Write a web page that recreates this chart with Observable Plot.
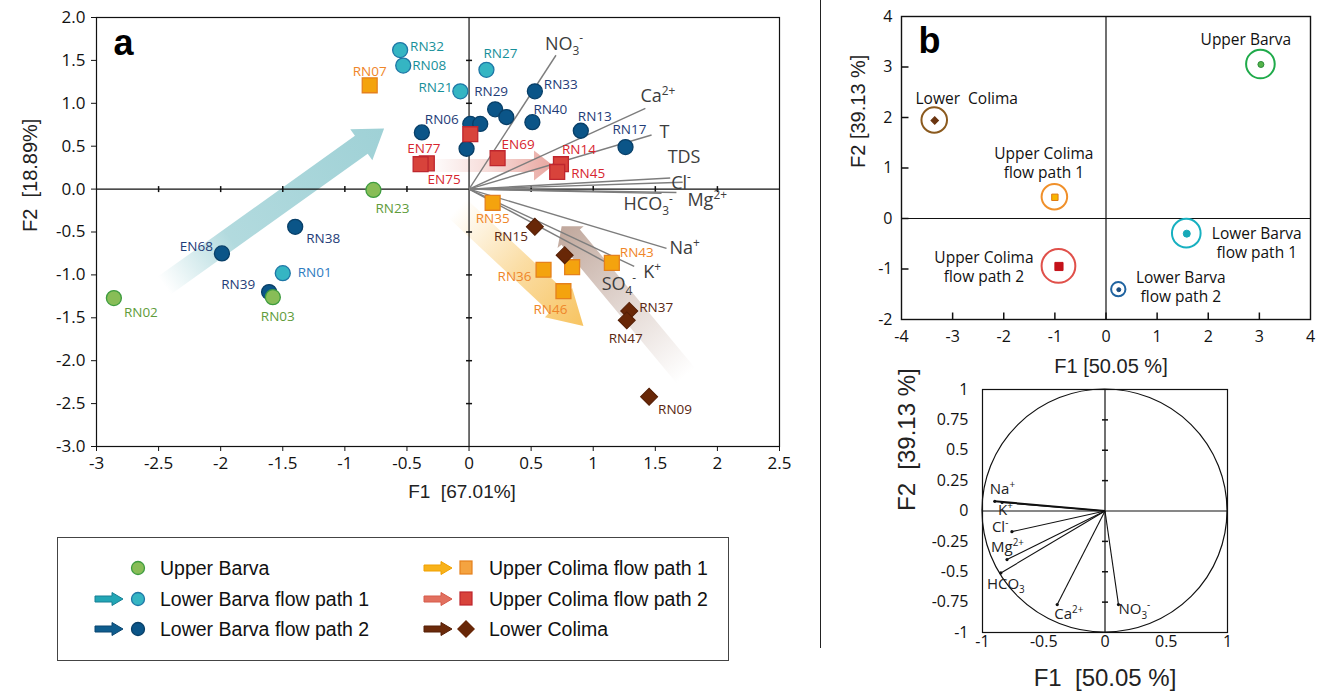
<!DOCTYPE html>
<html>
<head>
<meta charset="utf-8">
<script src="https://cdn.jsdelivr.net/npm/d3@7"></script>
<script src="https://cdn.jsdelivr.net/npm/@observablehq/plot@0.6"></script>
<style>
html, body { margin: 0; padding: 0; background: #fff; }
#root { position: relative; width: 1322px; height: 691px; overflow: hidden; font-family: "Open Sans", sans-serif; }
.panel { position: absolute; }
</style>
</head>
<body>
<div id="root"></div>
<script>
// ================= DATA =================
// ---- Panel a: sample scores (F1, F2) ----
const sampleIds = [
  "EN68","RN38","RN39","RN06","","","","RN29","","RN33","RN40","RN13","RN17",
  "RN01","RN32","RN08","RN21","RN27",
  "RN02","RN03","RN23",
  "RN07","RN35","RN36","","RN46","RN43",
  "","EN69","EN77","EN75","RN14","RN45",
  "RN15","","RN37","RN47","RN09"
];
const sampleGroup = [
  "LB2","LB2","LB2","LB2","LB2","LB2","LB2","LB2","LB2","LB2","LB2","LB2","LB2",
  "LB1","LB1","LB1","LB1","LB1",
  "UB","UB","UB",
  "UC1","UC1","UC1","UC1","UC1","UC1",
  "UC2","UC2","UC2","UC2","UC2","UC2",
  "LC","LC","LC","LC","LC"
];
const sampleF1 = [
  -1.99,-1.40,-1.61,-0.38,0.01,0.09,-0.02,0.21,0.30,0.53,0.51,0.90,1.26,
  -1.50,-0.555,-0.53,-0.07,0.14,
  -2.86,-1.58,-0.77,
  -0.80,0.19,0.60,0.83,0.76,1.15,
  0.01,0.23,-0.34,-0.39,0.74,0.71,
  0.53,0.77,1.29,1.27,1.45
];
const sampleF2 = [
  -0.75,-0.44,-1.20,0.66,0.76,0.76,0.47,0.93,0.84,1.14,0.78,0.68,0.49,
  -0.98,1.62,1.44,1.14,1.39,
  -1.27,-1.26,-0.01,
  1.21,-0.16,-0.94,-0.91,-1.19,-0.86,
  0.64,0.36,0.30,0.29,0.29,0.20,
  -0.44,-0.77,-1.42,-1.53,-2.42
];
// ---- Panel a: variable loadings ----
const varLabelsA = ["NO_{3}^{-}","Ca^{2+}","T","TDS","Cl^{-}","HCO_{3}^{-}","Mg^{2+}","Na^{+}","K^{+}","SO_{4}^{-}"];
const varF1A = [0.70,1.42,1.47,1.72,1.62,1.55,1.67,1.59,1.33,1.10];
const varF2A = [1.56,0.94,0.63,0.08,0.13,-0.05,-0.04,-0.69,-0.90,-0.85];
// ---- Panel a: flow-path arrows (tail -> head, in F1/F2 units) ----
const flowGroup  = ["LB1","UC2","UC1","LC"];
const flowTailF1 = [-2.45,-0.33,-0.09,1.75];
const flowTailF2 = [-1.13,0.27,-0.23,-2.18];
const flowHeadF1 = [-0.68,0.68,0.925,0.75];
const flowHeadF2 = [0.70,0.27,-1.60,-0.44];
// ---- Panel a ticks ----
const xTicksA = [-3,-2.5,-2,-1.5,-1,-0.5,0,0.5,1,1.5,2,2.5];
const yTicksA = [-3,-2.5,-2,-1.5,-1,-0.5,0,0.5,1,1.5,2];

// ---- Panel b (top): group centroids ----
const groupB = ["UB","LC","UC1","UC2","LB1","LB2"];
const centroidF1 = [3.03,-3.35,-1.00,-0.92,1.58,0.25];
const centroidF2 = [3.05,1.94,0.42,-0.95,-0.30,-1.41];
const spreadB = [0.28,0.25,0.25,0.33,0.28,0.14];
const groupLabelB = ["Upper Barva","Lower\u00a0 Colima","Upper Colima\nflow path 1","Upper Colima\nflow path 2","Lower Barva\nflow path 1","Lower Barva\nflow path 2"];
const xTicksB = [-4,-3,-2,-1,0,1,2,3,4];
const yTicksB = [-2,-1,0,1,2,3,4];

// ---- Panel b (bottom): correlation circle ----
const varLabelsC = ["Na^{+}","K^{+}","Cl^{-}","Mg^{2+}","HCO_{3}","Ca^{2+}","NO_{3}^{-}"];
const varF1C = [-0.90,-0.84,-0.76,-0.80,-0.85,-0.39,0.11];
const varF2C = [0.08,0.07,-0.17,-0.40,-0.51,-0.77,-0.77];
const xTicksC = [-1,-0.5,0,0.5,1];
const yTicksC = [-1,-0.75,-0.5,-0.25,0,0.25,0.5,0.75,1];

// ---- Legend ----
const legendGroups = ["UB","LB1","LB2","UC1","UC2","LC"];
const legendNames = ["Upper Barva","Lower Barva flow path 1","Lower Barva flow path 2","Upper Colima flow path 1","Upper Colima flow path 2","Lower Colima"];

// ================= STYLES / LAYOUT =================
const S = {
  UB:  {fill:"#88bd57", stroke:"#3e9c3f", label:"#5f9c3b", shape:"circle"},
  LB1: {fill:"#35b5c3", stroke:"#1e77a6", label:"#17909a", shape:"circle"},
  LB2: {fill:"#0b5588", stroke:"#083f68", label:"#1f3d78", shape:"circle"},
  UC1: {fill:"#f4a30e", stroke:"#e5811d", label:"#ef8629", shape:"square"},
  UC2: {fill:"#d8433b", stroke:"#be262e", label:"#d7262f", shape:"square"},
  LC:  {fill:"#682707", stroke:"#531e05", label:"#5a2812", shape:"diamond"}
};
// label offsets in px: [dx, dy, anchor, colorOverride]
const labelPlace = {
  RN02:[10,15,"start"], RN03:[5,19,"middle"], RN23:[2,19,"start"],
  RN01:[15,-1,"start","#2f7cbf"], RN32:[10,-3,"start"], RN08:[9,0,"start"], RN21:[-8,-4,"end"], RN27:[-3,-16,"start"],
  EN68:[-9,-7,"end"], RN38:[11,12,"start"], RN39:[-14,-7,"end"], RN06:[3,-13,"start"],
  RN29:[-4,-18,"middle"], RN33:[9,-7,"start"], RN40:[1,-13,"start"], RN13:[-3,-14,"start"], RN17:[-13,-17,"start"],
  RN07:[0,-14,"middle"], RN35:[0,16,"middle"], RN36:[-12,7,"end"], RN46:[-13,18,"middle"], RN43:[8,-10,"start"],
  EN77:[-3,-15,"middle"], EN75:[7,15,"start"], EN69:[4,-14,"start"], RN14:[1,-15,"start"], RN45:[14,2,"start"],
  RN15:[-7,10,"end"], RN37:[10,-3,"start"], RN47:[-1,18,"middle"], RN09:[9,13,"start"]
};
const varPlaceA = [[-11,-11],[-5,-12],[8,-3],[-15,-25],[1,5],[-38,11],[11,8],[3,0],[9,6],[-4,22]];
const varPlaceC = [[-5,-12],[-4,8],[-20,-4],[-16,-12],[-14,11],[-3,10],[0,5]];
const arrowLook = {
  LB1: {color:"#9fd1d6", w:11, h:19, L:28, stops:[[0,0],[0.3,0.8],[1,1]]},
  UC2: {color:"#e5978f", w:6.5, h:15, L:19, stops:[[0,0],[0.5,0.35],[1,0.85]]},
  UC1: {color:"#f7c159", w:13, h:20, L:34, stops:[[0,0],[0.5,0.55],[1,0.95]]},
  LC:  {color:"#bda397", w:12, h:17, L:14, stops:[[0,0],[0.5,0.45],[1,0.95]]}
};
const ringLook = {
  UB:  {ring:"#1faa4a", sym:"circle", r:3, fill:"#55b44a", stroke:"#2a8a3a"},
  LC:  {ring:"#8b5a1e", sym:"diamond", r:3, fill:"#6a3510", stroke:"#6a3510"},
  UC1: {ring:"#f0902a", sym:"square", r:3.6, fill:"#f7b500", stroke:"#e07a10"},
  UC2: {ring:"#e0504a", sym:"square", r:4.6, fill:"#c4121a", stroke:"#c4121a"},
  LB1: {ring:"#17b0c0", sym:"circle", r:3.5, fill:"#17a9b8", stroke:"#17a9b8"},
  LB2: {ring:"#1f63a0", sym:"circle", r:2, fill:"#1a4d80", stroke:"#1a4d80"}
};
const labelPlaceB = [[-15,-26],[32,-23],[-11,-35],[-75,0],[70,9],[62,-3]];

// ================= HELPERS =================
const hDash = {draw(ctx) { ctx.moveTo(-3, 0); ctx.lineTo(3, 0); }};
const vDash = {draw(ctx) { ctx.moveTo(0, -3); ctx.lineTo(0, 3); }};
const upTick = {draw(ctx) { ctx.moveTo(0, 0); ctx.lineTo(0, -7); }};
const rightTick = {draw(ctx) { ctx.moveTo(0, 0); ctx.lineTo(7, 0); }};

function richify(svgNode) {
  d3.select(svgNode).selectAll("text").each(function () {
    const raw = this.textContent;
    if (!/[_^]\{/.test(raw)) return;
    const fs = parseFloat(getComputedStyle(this).fontSize) || 16;
    const parts = [];
    const re = /([_^])\{([^}]*)\}/g;
    let last = 0, m;
    while ((m = re.exec(raw))) {
      if (m.index > last) parts.push({t: raw.slice(last, m.index), k: ""});
      parts.push({t: m[2], k: m[1]});
      last = re.lastIndex;
    }
    if (last < raw.length) parts.push({t: raw.slice(last), k: ""});
    this.textContent = "";
    let cur = 0;
    for (const p of parts) {
      const target = p.k === "_" ? 0.28 * fs : p.k === "^" ? -0.42 * fs : 0;
      const ts = document.createElementNS("http://www.w3.org/2000/svg", "tspan");
      if (target !== cur) ts.setAttribute("dy", target - cur);
      if (p.k) ts.setAttribute("font-size", 0.66 * fs);
      ts.textContent = p.t;
      this.appendChild(ts);
      cur = target;
    }
  });
}

function place(node, left, top, w, h) {
  const div = document.createElement("div");
  div.className = "panel";
  div.style.left = left + "px"; div.style.top = top + "px";
  div.style.width = w + "px"; div.style.height = h + "px";
  div.appendChild(node);
  document.getElementById("root").appendChild(div);
  richify(node);
}

// ================= PANEL a =================
const samples = sampleIds.map((id, i) => ({id, g: sampleGroup[i], f1: sampleF1[i], f2: sampleF2[i]}));
const loadsA = varLabelsA.map((v, i) => ({v, f1: varF1A[i], f2: varF2A[i], p: varPlaceA[i]}));
const flows = flowGroup.map((g, i) => ({g, t1: flowTailF1[i], t2: flowTailF2[i], h1: flowHeadF1[i], h2: flowHeadF2[i]}));

function flowArrowsMark(index, scales) {
  const g = d3.create("svg:g");
  const defs = g.append("defs");
  flows.forEach((a, i) => {
    const st = arrowLook[a.g];
    const tx = scales.x(a.t1), ty = scales.y(a.t2);
    const px = scales.x(a.h1), py = scales.y(a.h2);
    const ddx = px - tx, ddy = py - ty, len = Math.hypot(ddx, ddy);
    const ux = ddx / len, uy = ddy / len, nx = -uy, ny = ux;
    const bx = px - ux * st.L, by = py - uy * st.L;
    const pts = [
      [tx + nx * st.w, ty + ny * st.w], [bx + nx * st.w, by + ny * st.w], [bx + nx * st.h, by + ny * st.h],
      [px, py],
      [bx - nx * st.h, by - ny * st.h], [bx - nx * st.w, by - ny * st.w], [tx - nx * st.w, ty - ny * st.w]
    ];
    const id = "flowgrad" + i;
    const lg = defs.append("linearGradient").attr("id", id).attr("gradientUnits", "userSpaceOnUse")
      .attr("x1", tx).attr("y1", ty).attr("x2", px).attr("y2", py);
    st.stops.forEach(([o, op]) => lg.append("stop").attr("offset", o).attr("stop-color", st.color).attr("stop-opacity", op));
    g.append("path").attr("d", "M" + pts.map(p => p.join(",")).join("L") + "Z").attr("fill", `url(#${id})`);
  });
  return g.node();
}

const marksA = [
  flowArrowsMark,
  Plot.ruleX([0], {stroke: "#111", strokeWidth: 1.2}),
  Plot.ruleY([0], {stroke: "#111", strokeWidth: 1.2}),
  Plot.dot(yTicksA.filter(v => v !== 0 && v !== 2 && v !== -3), {x: 0, y: d => d, symbol: hDash, stroke: "#111"}),
  Plot.dot(xTicksA.filter(v => v !== 0 && v !== -3 && v !== 2.5), {x: d => d, y: 0, symbol: vDash, stroke: "#111"}),
  Plot.frame({stroke: "#111", strokeWidth: 1.2}),
  Plot.axisX({ticks: xTicksA, tickFormat: d => String(d), tickSize: 5, tickPadding: 5, label: null, fontSize: 17, stroke: "#111"}),
  Plot.axisY({ticks: yTicksA, tickFormat: d => d.toFixed(1), tickSize: 5, tickPadding: 6, label: null, fontSize: 17, stroke: "#111"}),
  Plot.link(loadsA, {x1: 0, y1: 0, x2: "f1", y2: "f2", stroke: "#7d7d7d", strokeWidth: 1.4}),
  ...loadsA.map(d => Plot.text([d], {x: "f1", y: "f2", text: "v", dx: d.p[0], dy: d.p[1], textAnchor: "start", lineAnchor: "middle", fontSize: 18, fill: "#3d3d3d"})),
  Plot.dot(samples.filter(d => S[d.g].shape === "circle"), {x: "f1", y: "f2", r: 7.5, symbol: "circle", fill: d => S[d.g].fill, stroke: d => S[d.g].stroke, strokeWidth: 1.3}),
  Plot.dot(samples.filter(d => S[d.g].shape === "square"), {x: "f1", y: "f2", r: 8.4, symbol: "square", fill: d => S[d.g].fill, stroke: d => S[d.g].stroke, strokeWidth: 1.3}),
  Plot.dot(samples.filter(d => S[d.g].shape === "diamond"), {x: "f1", y: "f2", r: 6.8, symbol: "square", rotate: 45, fill: d => S[d.g].fill, stroke: d => S[d.g].stroke, strokeWidth: 1}),
  ...samples.filter(d => d.id).map(d => {
    const p = labelPlace[d.id];
    return Plot.text([d], {x: "f1", y: "f2", text: "id", dx: p[0], dy: p[1], textAnchor: p[2], lineAnchor: "middle", fontSize: 13.5, fill: p[3] || S[d.g].label});
  }),
  Plot.text(["a"], {text: d => d, frameAnchor: "top-left", dx: 17, dy: 37, lineAnchor: "bottom", textAnchor: "start", fontSize: 36, fontWeight: "bold", fontFamily: "Liberation Sans", fill: "#000"}),
  Plot.text(["F1\u00a0 [67.01%]"], {text: d => d, frameAnchor: "bottom", dx: 24, dy: 45, lineAnchor: "middle", fontSize: 19, fontFamily: "Liberation Sans", fill: "#222"}),
  Plot.text(["F2\u00a0 [18.89%]"], {text: d => d, frameAnchor: "left", dx: -66, rotate: -90, lineAnchor: "middle", fontSize: 20, fontFamily: "Liberation Sans", fill: "#222"})
];

const plotA = Plot.plot({
  width: 800, height: 510,
  marginLeft: 96, marginRight: 21, marginTop: 17, marginBottom: 64,
  x: {domain: [-3, 2.5], label: null},
  y: {domain: [-3, 2], label: null},
  color: {type: "identity"},
  style: {fontFamily: "Open Sans", fontSize: "17px", color: "#111", background: "transparent", overflow: "visible"},
  marks: marksA
});
place(plotA, 0, 0, 800, 510);

// ================= LEGEND =================
(function buildLegend() {
  const W = 672, H = 124;
  const box = document.createElement("div");
  box.className = "panel";
  box.style.cssText = `left:57px;top:537px;width:${W}px;height:${H}px;border:1px solid #444;box-sizing:border-box;`;
  const svg = d3.create("svg").attr("width", W - 2).attr("height", H - 2);
  const rows = [30, 61, 91];
  const cols = [{ax: 37, sx: 80, tx: 102}, {ax: 366, sx: 408, tx: 431}];
  const arrowFill = {LB1: ["#22a6b5", "#167f94"], LB2: ["#0f5d8e", "#0a4670"], UC1: ["#f8b21a", "#f0a000"], UC2: ["#e2705f", "#d65a4a"], LC: ["#6b2a0a", "#551f06"]};
  legendGroups.forEach((g, i) => {
    const c = cols[Math.floor(i / 3)], y = rows[i % 3];
    if (g !== "UB") {
      const x0 = c.ax, x1 = c.ax + 28, hx = x1 - 11;
      svg.append("path")
        .attr("d", `M${x0},${y - 3}L${hx},${y - 3}L${hx},${y - 6.5}L${x1},${y}L${hx},${y + 6.5}L${hx},${y + 3}L${x0},${y + 3}Z`)
        .attr("fill", arrowFill[g][0]).attr("stroke", arrowFill[g][1]).attr("stroke-width", 1);
    }
    const st = S[g];
    if (st.shape === "circle") {
      svg.append("circle").attr("cx", c.sx).attr("cy", y).attr("r", 6.5).attr("fill", st.fill).attr("stroke", st.stroke).attr("stroke-width", 1.3);
    } else if (st.shape === "square") {
      svg.append("rect").attr("x", c.sx - 6).attr("y", y - 7).attr("width", 12).attr("height", 13)
        .attr("fill", g === "UC1" ? "#f4a340" : st.fill).attr("stroke", st.stroke).attr("stroke-width", 1.2);
    } else {
      svg.append("path").attr("d", `M${c.sx},${y - 9}L${c.sx + 9},${y}L${c.sx},${y + 9}L${c.sx - 9},${y}Z`).attr("fill", st.fill);
    }
    svg.append("text").attr("x", c.tx).attr("y", y).attr("dy", "0.36em")
      .attr("font-family", "Liberation Sans").attr("font-size", 19.5).attr("fill", "#111").text(legendNames[i]);
  });
  box.appendChild(svg.node());
  document.getElementById("root").appendChild(box);
})();

// ================= SEPARATOR =================
(function () {
  const sep = document.createElement("div");
  sep.className = "panel";
  sep.style.cssText = "left:820px;top:0;width:1px;height:648px;background:#222;";
  document.getElementById("root").appendChild(sep);
})();

// ================= PANEL b (top) =================
const centroids = groupB.map((g, i) => ({g, f1: centroidF1[i], f2: centroidF2[i], s: spreadB[i], label: groupLabelB[i], p: labelPlaceB[i]}));

function ringsMark(index, scales) {
  const g = d3.create("svg:g");
  const unit = scales.x(1) - scales.x(0);
  centroids.forEach(c => {
    g.append("circle").attr("cx", scales.x(c.f1)).attr("cy", scales.y(c.f2)).attr("r", c.s * unit)
      .attr("fill", "none").attr("stroke", ringLook[c.g].ring).attr("stroke-width", 2);
  });
  return g.node();
}

const marksB = [
  Plot.ruleX([0], {stroke: "#111", strokeWidth: 1.2}),
  Plot.ruleY([0], {stroke: "#111", strokeWidth: 1.2}),
  Plot.frame({stroke: "#111", strokeWidth: 1.4}),
  Plot.dot(xTicksB.filter(v => v !== -4 && v !== 4), {x: d => d, y: -2, symbol: upTick, stroke: "#111"}),
  Plot.dot(yTicksB.filter(v => v !== -2 && v !== 4), {x: -4, y: d => d, symbol: rightTick, stroke: "#111"}),
  Plot.axisX({ticks: xTicksB, tickFormat: d => String(d), tickSize: 0, tickPadding: 11, label: null, fontSize: 16}),
  Plot.axisY({ticks: yTicksB, tickFormat: d => String(d), tickSize: 0, tickPadding: 9, label: null, fontSize: 16}),
  ringsMark,
  ...centroids.map(c => {
    const lk = ringLook[c.g];
    const so = lk.sym === "diamond" ? {symbol: "square", rotate: 45} : {symbol: lk.sym};
    return Plot.dot([c], {x: "f1", y: "f2", r: lk.r, ...so, fill: lk.fill, stroke: lk.stroke, strokeWidth: 1});
  }),
  ...centroids.map(c => Plot.text([c], {x: "f1", y: "f2", text: "label", dx: c.p[0], dy: c.p[1], textAnchor: "middle", lineAnchor: "middle", lineHeight: 1.24, fontSize: 15.5, fill: "#111"})),
  Plot.text(["b"], {text: d => d, frameAnchor: "top-left", dx: 17, dy: 36, lineAnchor: "bottom", textAnchor: "start", fontSize: 36, fontWeight: "bold", fontFamily: "Liberation Sans", fill: "#000"}),
  Plot.text(["F1 [50.05 %]"], {text: d => d, frameAnchor: "bottom", dx: 5, dy: 47, lineAnchor: "middle", fontSize: 20, fontFamily: "Liberation Sans", fill: "#222"}),
  Plot.text(["F2 [39.13 %]"], {text: d => d, frameAnchor: "left", dx: -43, rotate: -90, lineAnchor: "middle", fontSize: 20, fontFamily: "Liberation Sans", fill: "#222"})
];

const plotB = Plot.plot({
  width: 492, height: 380,
  marginLeft: 71, marginRight: 12, marginTop: 16, marginBottom: 61,
  x: {domain: [-4, 4], label: null},
  y: {domain: [-2, 4], label: null},
  style: {fontFamily: "Open Sans", fontSize: "16px", color: "#111", background: "transparent", overflow: "visible"},
  marks: marksB
});
place(plotB, 830, 0, 492, 380);

// ================= PANEL b (bottom): correlation circle =================
const loadsC = varLabelsC.map((v, i) => ({v, f1: varF1C[i], f2: varF2C[i], p: varPlaceC[i]}));

function unitCircleMark(index, scales) {
  const cx = scales.x(0), cy = scales.y(0);
  const rx = scales.x(1) - cx, ry = cy - scales.y(1);
  return d3.create("svg:ellipse").attr("cx", cx).attr("cy", cy).attr("rx", rx).attr("ry", ry)
    .attr("fill", "none").attr("stroke", "#111").attr("stroke-width", 1.2).node();
}

const marksC = [
  Plot.ruleX([0], {stroke: "#111", strokeWidth: 1.2}),
  Plot.ruleY([0], {stroke: "#111", strokeWidth: 1.2}),
  Plot.dot(yTicksC.filter(v => v !== 0 && v !== 1 && v !== -1), {x: 0, y: d => d, symbol: hDash, stroke: "#111"}),
  Plot.frame({stroke: "#111", strokeWidth: 1.2}),
  unitCircleMark,
  Plot.axisX({ticks: xTicksC, tickFormat: d => String(d), tickSize: 0, tickPadding: 3, label: null, fontSize: 16}),
  Plot.axisY({ticks: yTicksC, tickFormat: d => String(d), tickSize: 0, tickPadding: 14, label: null, fontSize: 16}),
  Plot.link(loadsC, {x1: 0, y1: 0, x2: "f1", y2: "f2", stroke: "#111", strokeWidth: d => d.v === "Na^{+}" ? 2 : 1.1}),
  Plot.dot(loadsC, {x: "f1", y: "f2", r: 1.6, fill: "#111", stroke: "none"}),
  ...loadsC.map(d => Plot.text([d], {x: "f1", y: "f2", text: "v", dx: d.p[0], dy: d.p[1], textAnchor: "start", lineAnchor: "middle", fontSize: 15, fill: "#222"})),
  Plot.text(["F1\u00a0 [50.05 %]"], {text: d => d, frameAnchor: "bottom", dx: 0, dy: 46, lineAnchor: "middle", fontSize: 24, fontFamily: "Liberation Sans", fill: "#222"}),
  Plot.text(["F2\u00a0 [39.13 %]"], {text: d => d, frameAnchor: "left", dx: -75, rotate: -90, lineAnchor: "middle", fontSize: 24, fontFamily: "Liberation Sans", fill: "#222"})
];

const plotC = Plot.plot({
  width: 422, height: 321,
  marginLeft: 82, marginRight: 95, marginTop: 19, marginBottom: 59,
  x: {domain: [-1, 1], label: null},
  y: {domain: [-1, 1], label: null},
  style: {fontFamily: "Open Sans", fontSize: "16px", color: "#111", background: "transparent", overflow: "visible"},
  marks: marksC
});
place(plotC, 900, 370, 422, 321);
</script>
</body>
</html>
